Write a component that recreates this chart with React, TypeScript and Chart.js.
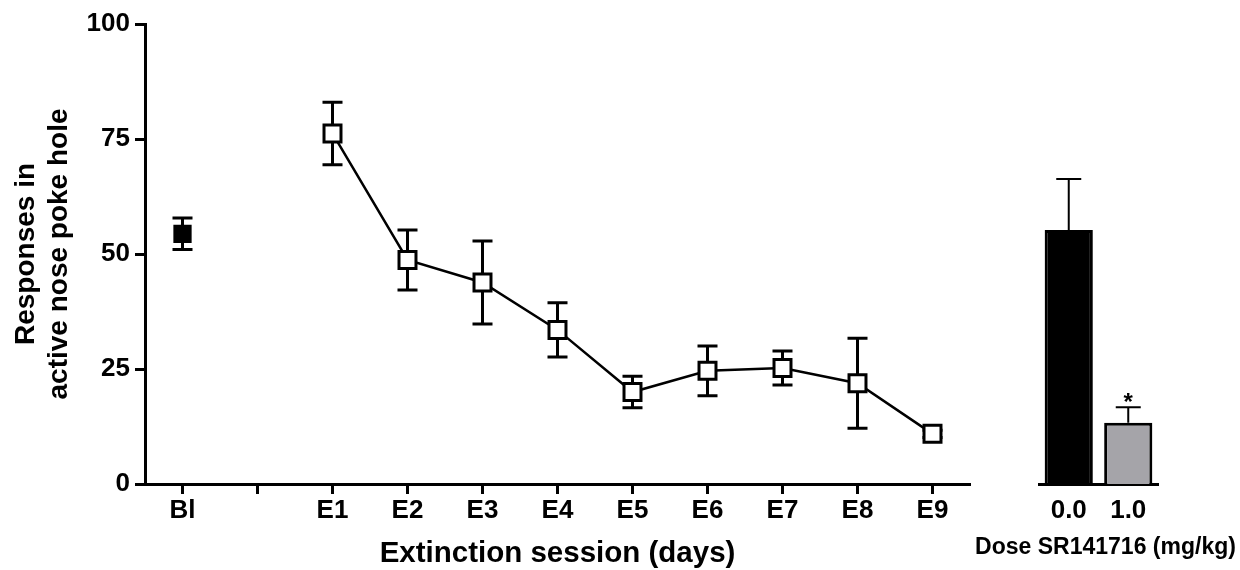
import React, { useEffect, useRef } from 'react';
import { Chart, registerables } from 'chart.js';

Chart.register(...registerables);

const FONT = '"Liberation Sans", Arial, Helvetica, sans-serif';

// ---- Data ----
const sessionLabels = ['Bl', '', 'E1', 'E2', 'E3', 'E4', 'E5', 'E6', 'E7', 'E8', 'E9'];
const baselineMean = [54.4];
const baselineSem = [3.4];
const extinctionMeans = [76.2, 48.7, 43.8, 33.5, 20.0, 24.6, 25.2, 21.9, 10.9];
const extinctionSem = [6.8, 6.5, 9.0, 5.9, 3.4, 5.4, 3.7, 9.8, 0.8];
const yTickValues = [0, 25, 50, 75, 100];

const doseLabels = ['0.0', '1.0'];
const doseMeans = [55.2, 13.3];
const doseSem = [11.1, 3.4];
const doseSignificance = ['', '*'];
const doseColors = ['#000000', '#a5a4a9'];

const yTitleLines = ['Responses in', 'active nose poke hole'];
const xTitle = 'Extinction session (days)';
const doseTitle = 'Dose SR141716 (mg/kg)';

// Build full-length arrays aligned with sessionLabels
const blData = sessionLabels.map((_, i) => (i === 0 ? baselineMean[0] : null));
const blErr = sessionLabels.map((_, i) => (i === 0 ? baselineSem[0] : null));
const extData = sessionLabels.map((_, i) => (i >= 2 ? extinctionMeans[i - 2] : null));
const extErr = sessionLabels.map((_, i) => (i >= 2 ? extinctionSem[i - 2] : null));

const errorBarPlugin = {
  id: 'errorBars',
  beforeDatasetsDraw(chart: any) {
    const opts = chart.options.plugins.errorBars || {};
    if (opts.phase !== 'before') return;
    drawErrors(chart, opts);
  },
  afterDatasetsDraw(chart: any) {
    const opts = chart.options.plugins.errorBars || {};
    if (opts.phase !== 'after') return;
    drawErrors(chart, opts);
  },
};

function drawErrors(chart: any, opts: any) {
  const ctx = chart.ctx;
  const yScale = chart.scales.y;
  ctx.save();
  ctx.strokeStyle = '#000';
  ctx.lineWidth = opts.lineWidth || 3;
  ctx.lineCap = 'butt';
  chart.data.datasets.forEach((ds: any, di: number) => {
    if (!ds.errorBars) return;
    const meta = chart.getDatasetMeta(di);
    meta.data.forEach((el: any, i: number) => {
      const v = ds.data[i];
      const e = ds.errorBars[i];
      if (v == null || e == null) return;
      const x = el.x;
      const yTop = yScale.getPixelForValue(v + e);
      const yMid = yScale.getPixelForValue(v);
      const yBot = yScale.getPixelForValue(v - e);
      const hw = (opts.capWidth || 20) / 2;
      ctx.beginPath();
      ctx.moveTo(x, yTop);
      ctx.lineTo(x, opts.upOnly ? yMid : yBot);
      ctx.moveTo(x - hw, yTop);
      ctx.lineTo(x + hw, yTop);
      if (!opts.upOnly) {
        ctx.moveTo(x - hw, yBot);
        ctx.lineTo(x + hw, yBot);
      }
      ctx.stroke();
      if (ds.marks && ds.marks[i]) {
        ctx.fillStyle = '#000';
        ctx.font = `bold 24px ${FONT}`;
        ctx.textAlign = 'center';
        ctx.textBaseline = 'alphabetic';
        ctx.fillText(ds.marks[i], x, yTop + 3);
      }
    });
  });
  ctx.restore();
}

// Axis caption drawn without Chart.js' width squeezing
const captionPlugin = {
  id: 'caption',
  afterDraw(chart: any) {
    const opts = chart.options.plugins.caption;
    if (!opts || !opts.text) return;
    const ctx = chart.ctx;
    const area = chart.chartArea;
    ctx.save();
    ctx.fillStyle = '#000';
    ctx.font = `bold ${opts.size}px ${FONT}`;
    ctx.textAlign = 'center';
    ctx.textBaseline = 'middle';
    ctx.fillText(opts.text, (area.left + area.right) / 2 + (opts.dx || 0), opts.y);
    ctx.restore();
  },
};

export default function App() {
  const mainRef = useRef<HTMLCanvasElement>(null);
  const doseRef = useRef<HTMLCanvasElement>(null);

  useEffect(() => {
    const tickFont = { family: FONT, size: 26, weight: 'bold' as const };
    const main = new Chart(mainRef.current!, {
      type: 'line',
      data: {
        labels: sessionLabels,
        datasets: [
          {
            data: blData,
            errorBars: blErr,
            showLine: false,
            pointStyle: 'rect',
            pointRadius: 11.5,
            pointHoverRadius: 11.5,
            pointBackgroundColor: '#000',
            pointBorderColor: '#000',
            pointBorderWidth: 2,
          } as any,
          {
            data: extData,
            errorBars: extErr,
            borderColor: '#000',
            borderWidth: 2.5,
            tension: 0,
            pointStyle: 'rect',
            pointRadius: 12,
            pointHoverRadius: 12,
            pointBackgroundColor: '#fff',
            pointBorderColor: '#000',
            pointBorderWidth: 3,
          } as any,
        ],
      },
      options: {
        animation: false,
        responsive: false,
        events: [],
        layout: { padding: { top: 24, right: 20, left: 0, bottom: 0 } },
        plugins: {
          legend: { display: false },
          tooltip: { enabled: false },
          errorBars: { phase: 'before', lineWidth: 3, capWidth: 20 },
        } as any,
        scales: {
          x: {
            type: 'category',
            offset: true,
            afterFit: (s: any) => { s.height = 86; },
            grid: {
              display: true,
              drawOnChartArea: false,
              offset: false,
              tickLength: 10,
              tickWidth: 3,
              tickColor: '#000',
            },
            border: { display: true, width: 3, color: '#000' },
            ticks: { font: tickFont, color: '#000', padding: 1, autoSkip: false, maxRotation: 0 },
            title: {
              display: true,
              text: xTitle,
              color: '#000',
              font: { family: FONT, size: 29.5, weight: 'bold', lineHeight: 1 },
              padding: { top: 0, bottom: 1 },
            },
          },
          y: {
            min: 0,
            max: 100,
            afterFit: (s: any) => { s.width = 145; },
            afterBuildTicks: (s: any) => { s.ticks = yTickValues.map((v) => ({ value: v })); },
            grid: {
              display: true,
              drawOnChartArea: false,
              tickLength: 10,
              tickWidth: 3,
              tickColor: '#000',
            },
            border: { display: true, width: 3, color: '#000' },
            ticks: { font: tickFont, color: '#000', padding: 5 },
            title: {
              display: true,
              text: yTitleLines,
              color: '#000',
              font: { family: FONT, size: 28, weight: 'bold', lineHeight: 1.18 },
              padding: { top: 9.5, bottom: 0 },
            },
          },
        },
      } as any,
      plugins: [errorBarPlugin],
    });

    const dose = new Chart(doseRef.current!, {
      type: 'bar',
      data: {
        labels: doseLabels,
        datasets: [
          {
            data: doseMeans,
            errorBars: doseSem,
            marks: doseSignificance,
            backgroundColor: doseColors,
            borderColor: '#000',
            borderWidth: 3,
            borderSkipped: 'bottom',
            barPercentage: 0.9,
            categoryPercentage: 0.9,
          } as any,
        ],
      },
      options: {
        animation: false,
        responsive: false,
        events: [],
        layout: { padding: { top: 24, right: 82, left: 79, bottom: 0 } },
        plugins: {
          legend: { display: false },
          tooltip: { enabled: false },
          errorBars: { phase: 'after', lineWidth: 2, capWidth: 25, upOnly: true },
          caption: { text: doseTitle, size: 23, y: 548, dx: 7 },
        } as any,
        scales: {
          x: {
            type: 'category',
            offset: true,
            afterFit: (s: any) => { s.height = 86; },
            grid: { display: false, drawTicks: false },
            border: { display: true, width: 3, color: '#000' },
            ticks: { font: tickFont, color: '#000', padding: 11, autoSkip: false, maxRotation: 0 },
            title: { display: false },
          },
          y: {
            display: false,
            min: 0,
            max: 100,
          },
        },
      } as any,
      plugins: [errorBarPlugin, captionPlugin],
    });

    return () => {
      main.destroy();
      dose.destroy();
    };
  }, []);

  return (
    <div style={{ position: 'absolute', left: 0, top: 0, width: 1240, height: 570, background: '#fff', overflow: 'hidden' }}>
      <canvas ref={mainRef} width={990} height={570} style={{ position: 'absolute', left: 0, top: 0 }} />
      <canvas ref={doseRef} width={280} height={570} style={{ position: 'absolute', left: 960, top: 0 }} />
    </div>
  );
}
